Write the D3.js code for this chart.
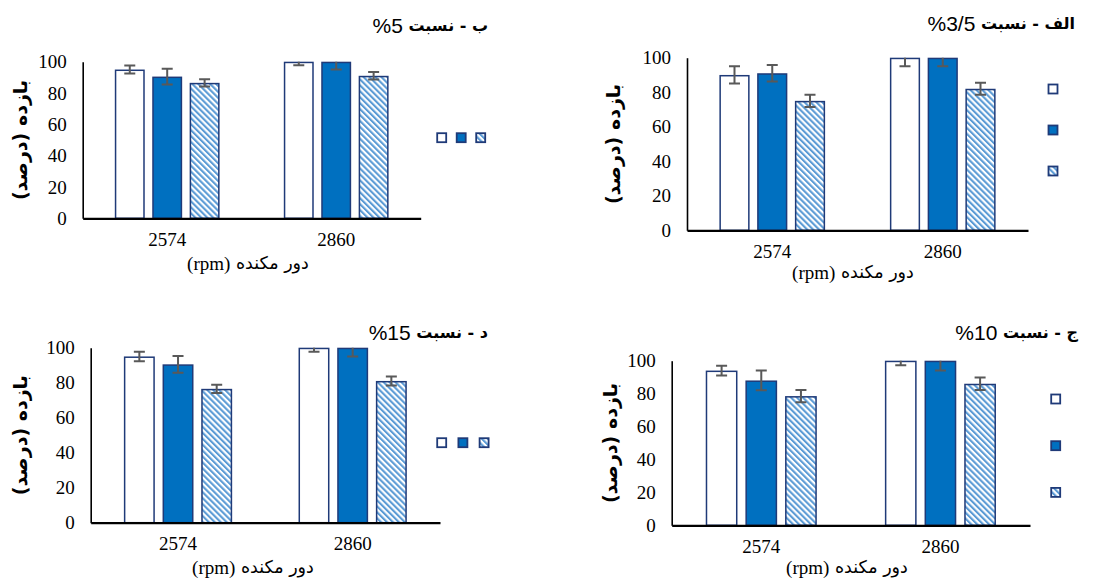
<!DOCTYPE html>
<html>
<head>
<meta charset="utf-8">
<script src="https://cdn.jsdelivr.net/npm/d3@7"></script>
<style>
  body { margin: 0; background: #fff; }
  svg { display: block; }
</style>
</head>
<body>
<svg id="chart" width="1101" height="581"></svg>
<script>
// ---- data ----
const categories = ["2574", "2860"];
const seriesKeys = ["open", "solid", "hatched"];
const yTicks = [0, 20, 40, 60, 80, 100];

const panelLabels = ["الف - نسبت ", "ب - نسبت ", "ج - نسبت ", "د - نسبت "];
const panelRatios = ["3/5%", "5%", "10%", "15%"];
const yTitle = "بازده (درصد)";
const xTitleWords = "دور مکنده ";
const xTitleUnit = "(rpm)";

// recovery means per speed; inner order follows seriesKeys
const means35 = [[90, 91, 75], [100, 100, 82]];
const errors35 = [[5, 4.8, 3.5], [5, 5, 3.5]];
const means5 = [[95, 90.5, 86.5], [100, 100, 91]];
const errors5 = [[2.5, 5, 2.3], [2.3, 5, 2.4]];
const means10 = [[94, 88, 78.5], [100, 100, 86]];
const errors10 = [[3, 6, 3.7], [2.8, 6, 3.8]];
const means15 = [[95, 90.5, 76.5], [100, 100, 81]];
const errors15 = [[2.7, 4.8, 2.4], [2.3, 5, 2.6]];

// ---- layout ----
const panels = [
  { label: panelLabels[0], ratio: panelRatios[0], means: means35, errors: errors35,
    left: 687, right: 1028, top: 57.7, bottom: 230.3,
    titleX: 1075, titleY: 23, yTitleX: 613, xTitleX: 853, xTitleY: 272,
    legend: { x: 1053, y: 89, dx: 0, dy: 41 } },
  { label: panelLabels[1], ratio: panelRatios[1], means: means5, errors: errors5,
    left: 82.7, right: 420.7, top: 61.7, bottom: 218.3,
    titleX: 488, titleY: 25, yTitleX: 20, xTitleX: 248, xTitleY: 263,
    legend: { x: 441.7, y: 137.7, dx: 19.5, dy: 0 } },
  { label: panelLabels[2], ratio: panelRatios[2], means: means10, errors: errors10,
    left: 671.7, right: 1030, top: 360.7, bottom: 525.3,
    titleX: 1078, titleY: 332, yTitleX: 610, xTitleX: 847, xTitleY: 567,
    legend: { x: 1055.7, y: 399, dx: 0, dy: 46.7 } },
  { label: panelLabels[3], ratio: panelRatios[3], means: means15, errors: errors15,
    left: 90.7, right: 440, top: 347.7, bottom: 522.7,
    titleX: 488, titleY: 332, yTitleX: 20, xTitleX: 253, xTitleY: 567,
    legend: { x: 441.7, y: 442.7, dx: 21.2, dy: 0 } }
];

const NAVY = "#1F3A78";
const BLUE = "#0070C0";
const STRIPE = "#5B9BD5";
const ERR = "#595959";
const SERIF = "'Liberation Serif', 'Times New Roman', serif";
const SANS = "'DejaVu Sans', 'Noto Sans', sans-serif";
const LATIN_SANS = "'Liberation Sans', Arial, sans-serif";

const svg = d3.select("#chart");
const defs = svg.append("defs");

// diagonal hatch used by the third series
const pat = defs.append("pattern")
  .attr("id", "hatch")
  .attr("patternUnits", "userSpaceOnUse")
  .attr("width", 4.2).attr("height", 4.2)
  .attr("patternTransform", "rotate(-45)");
pat.append("rect").attr("width", 4.2).attr("height", 4.2).attr("fill", "#fff");
pat.append("rect").attr("width", 2.1).attr("height", 4.2).attr("fill", STRIPE);

const fills = { open: "#fff", solid: BLUE, hatched: "url(#hatch)" };

panels.forEach((p, i) => {
  const g = svg.append("g");

  const x0 = d3.scaleBand().domain(categories)
    .range([p.left, p.right]).paddingInner(0.38).paddingOuter(0.19);
  const x1 = d3.scaleBand().domain(seriesKeys)
    .range([0, x0.bandwidth()]).paddingInner(0.2).paddingOuter(0);
  const y = d3.scaleLinear().domain([0, 100]).range([p.bottom, p.top]);

  const rows = categories.flatMap((c, ci) => seriesKeys.map((k, si) => ({
    c, k, v: p.means[ci][si], e: p.errors[ci][si],
    x: x0(c) + x1(k), cx: x0(c) + x1(k) + x1.bandwidth() / 2
  })));

  const clipId = "clip" + i;
  defs.append("clipPath").attr("id", clipId)
    .append("rect")
    .attr("x", p.left).attr("y", y(100))
    .attr("width", p.right - p.left).attr("height", p.bottom - y(100) + 2);

  // bars
  g.append("g").selectAll("rect").data(rows).join("rect")
    .attr("x", d => d.x + 0.75)
    .attr("width", x1.bandwidth() - 1.5)
    .attr("y", d => y(d.v) + 0.75)
    .attr("height", d => y(0) - y(d.v) - 0.75)
    .attr("fill", d => fills[d.k])
    .attr("stroke", NAVY)
    .attr("stroke-width", 1.5);

  // error bars (clipped at the top of the value axis)
  const cap = 5.5;
  const eb = g.append("g")
    .attr("clip-path", `url(#${clipId})`)
    .attr("stroke", ERR).attr("stroke-width", 2)
    .selectAll("g").data(rows).join("g");
  eb.append("line")
    .attr("x1", d => d.cx).attr("x2", d => d.cx)
    .attr("y1", d => y(d.v + d.e)).attr("y2", d => y(d.v - d.e));
  eb.append("line")
    .attr("x1", d => d.cx - cap).attr("x2", d => d.cx + cap)
    .attr("y1", d => y(d.v + d.e)).attr("y2", d => y(d.v + d.e));
  eb.append("line")
    .attr("x1", d => d.cx - cap).attr("x2", d => d.cx + cap)
    .attr("y1", d => y(d.v - d.e)).attr("y2", d => y(d.v - d.e));

  // value axis
  const yAxis = g.append("g")
    .attr("transform", `translate(${p.left},0)`)
    .call(d3.axisLeft(y).tickValues(yTicks).tickSize(0).tickPadding(16));
  yAxis.attr("font-family", null).attr("font-size", null);
  yAxis.select(".domain").attr("stroke", "#000").attr("stroke-width", 1.6);
  yAxis.selectAll("text")
    .style("font-family", SERIF).style("font-size", "19px").attr("fill", "#000");

  // category axis
  const xAxis = g.append("g")
    .attr("transform", `translate(0,${p.bottom})`)
    .call(d3.axisBottom(x0).tickSize(0).tickPadding(14).tickSizeOuter(0));
  xAxis.attr("font-family", null).attr("font-size", null);
  xAxis.select(".domain").attr("stroke", "#000").attr("stroke-width", 2.2);
  xAxis.selectAll("text")
    .style("font-family", SERIF).style("font-size", "19px").attr("fill", "#000");

  // panel title: bold label followed by the ratio
  const tt = g.append("text")
    .attr("x", p.titleX).attr("y", p.titleY)
    .attr("direction", "rtl").attr("text-anchor", "start")
    .attr("dominant-baseline", "central")
    .attr("fill", "#000");
  tt.append("tspan")
    .style("font-family", SANS).style("font-weight", "bold").style("font-size", "16px")
    .text(p.label);
  tt.append("tspan")
    .style("font-family", LATIN_SANS).style("font-size", "21px")
    .text(p.ratio);

  // value axis title
  g.append("text")
    .attr("transform", `translate(${p.yTitleX},${(p.top + p.bottom) / 2}) rotate(-90)`)
    .attr("direction", "rtl").attr("text-anchor", "middle")
    .attr("dominant-baseline", "central")
    .style("font-family", SANS).style("font-weight", "bold").style("font-size", "19px")
    .attr("fill", "#000")
    .text(yTitle);

  // category axis title
  const xt = g.append("text")
    .attr("x", p.xTitleX).attr("y", p.xTitleY)
    .attr("direction", "rtl").attr("text-anchor", "middle")
    .attr("dominant-baseline", "central")
    .style("font-family", SANS).style("font-size", "17.5px").attr("fill", "#000");
  xt.append("tspan").text(xTitleWords);
  xt.append("tspan").style("font-family", SERIF).style("font-size", "19px").text(xTitleUnit);

  // legend swatches
  g.selectAll("rect.key").data(seriesKeys).join("rect")
    .attr("class", "key")
    .attr("x", (k, j) => p.legend.x + j * p.legend.dx - 4.5)
    .attr("y", (k, j) => p.legend.y + j * p.legend.dy - 4.5)
    .attr("width", 9).attr("height", 9)
    .attr("fill", k => fills[k])
    .attr("stroke", NAVY).attr("stroke-width", 1.8);
});
</script>
</body>
</html>
